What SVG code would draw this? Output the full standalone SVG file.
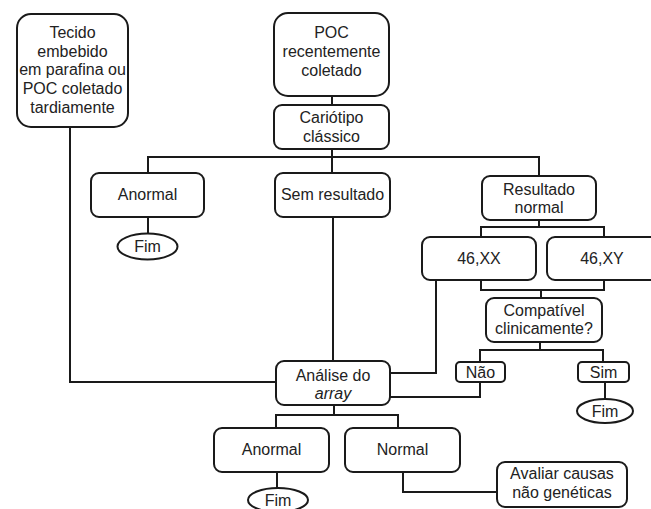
<svg xmlns="http://www.w3.org/2000/svg" width="651" height="509" viewBox="0 0 651 509">
<style>
.b{fill:#fff;stroke:#1a1a1a;stroke-width:2}
.t{font-family:"Liberation Sans",Arial,sans-serif;font-size:16px;fill:#222;text-anchor:middle}
.f{font-size:16px}
.c{fill:none;stroke:#1a1a1a;stroke-width:2}
</style>
<rect width="651" height="509" fill="#fff"/>
<g id="connectors">
<path class="c" d="M70 127V382H276"/>
<path class="c" d="M332 96V105"/>
<path class="c" d="M332 149V173"/>
<path class="c" d="M148 173V157H539V176"/>
<path class="c" d="M148 217V233"/>
<path class="c" d="M333 217V361"/>
<path class="c" d="M539 220V227"/>
<path class="c" d="M481 237V227H604V237"/>
<path class="c" d="M481 280V290H604V280"/>
<path class="c" d="M541 290V298"/>
<path class="c" d="M540 342V350"/>
<path class="c" d="M480 362V350H603V362"/>
<path class="c" d="M436 280V373H390"/>
<path class="c" d="M480 382V397H390"/>
<path class="c" d="M605 382V399"/>
<path class="c" d="M334 405V415"/>
<path class="c" d="M276 428V415H398V428"/>
<path class="c" d="M277 472V488"/>
<path class="c" d="M403 472V492H497"/>
</g>
<g id="tecido">
<rect class="b" x="17" y="14" width="111" height="113" rx="14"/>
<text class="t" x="72.5" y="38">Tecido</text>
<text class="t" x="72.5" y="57">embebido</text>
<text class="t" x="72.5" y="75">em parafina ou</text>
<text class="t" x="72.5" y="94">POC coletado</text>
<text class="t" x="72.5" y="113">tardiamente</text>
</g>
<g id="poc">
<rect class="b" x="274" y="13" width="115" height="83" rx="14"/>
<text class="t" x="331.5" y="38">POC</text>
<text class="t" x="331.5" y="57">recentemente</text>
<text class="t" x="331.5" y="76">coletado</text>
</g>
<g id="cariotipo">
<rect class="b" x="274" y="105" width="115" height="44" rx="8"/>
<text class="t" x="331.5" y="123">Cariótipo</text>
<text class="t" x="331.5" y="142">clássico</text>
</g>
<g id="anormal1">
<rect class="b" x="91" y="173" width="113" height="44" rx="8"/>
<text class="t" x="147.5" y="200">Anormal</text>
</g>
<g id="fim1">
<ellipse class="b" cx="147.5" cy="246.5" rx="30" ry="13"/>
<text class="t f" x="147.5" y="252">Fim</text>
</g>
<g id="semresultado">
<rect class="b" x="275" y="173" width="115" height="44" rx="8"/>
<text class="t" x="332.5" y="200">Sem resultado</text>
</g>
<g id="resultadonormal">
<rect class="b" x="482" y="176" width="114" height="44" rx="8"/>
<text class="t" x="539" y="195">Resultado</text>
<text class="t" x="539" y="213">normal</text>
</g>
<g id="xx">
<rect class="b" x="422" y="237" width="114" height="43" rx="8"/>
<text class="t" x="479" y="264">46,XX</text>
</g>
<g id="xy">
<rect class="b" x="547" y="237" width="120" height="43" rx="8"/>
<text class="t" x="602" y="264">46,XY</text>
</g>
<g id="compativel">
<rect class="b" x="486" y="298" width="116" height="44" rx="8"/>
<text class="t" x="544" y="316">Compatível</text>
<text class="t" x="544" y="334">clinicamente?</text>
</g>
<g id="nao">
<rect class="b" x="456" y="362" width="49" height="20" rx="4"/>
<text class="t" x="480.5" y="378">Não</text>
</g>
<g id="sim">
<rect class="b" x="578" y="362" width="51" height="20" rx="4"/>
<text class="t" x="603.5" y="378">Sim</text>
</g>
<g id="fim2">
<ellipse class="b" cx="605" cy="411" rx="28" ry="12"/>
<text class="t f" x="605" y="416.5">Fim</text>
</g>
<g id="analise">
<rect class="b" x="276" y="361" width="114" height="44" rx="8"/>
<text class="t" x="333" y="381">Análise do</text>
<text class="t" x="333" y="399" font-style="italic">array</text>
</g>
<g id="anormal2">
<rect class="b" x="214" y="428" width="115" height="44" rx="8"/>
<text class="t" x="271.5" y="455">Anormal</text>
</g>
<g id="normal">
<rect class="b" x="345" y="428" width="115" height="44" rx="8"/>
<text class="t" x="402.5" y="455">Normal</text>
</g>
<g id="fim3">
<ellipse class="b" cx="278" cy="500" rx="30" ry="12"/>
<text class="t f" x="278" y="505.5">Fim</text>
</g>
<g id="avaliar">
<rect class="b" x="497" y="462" width="130" height="45" rx="8"/>
<text class="t" x="562" y="479">Avaliar causas</text>
<text class="t" x="562" y="498">não genéticas</text>
</g>
</svg>
